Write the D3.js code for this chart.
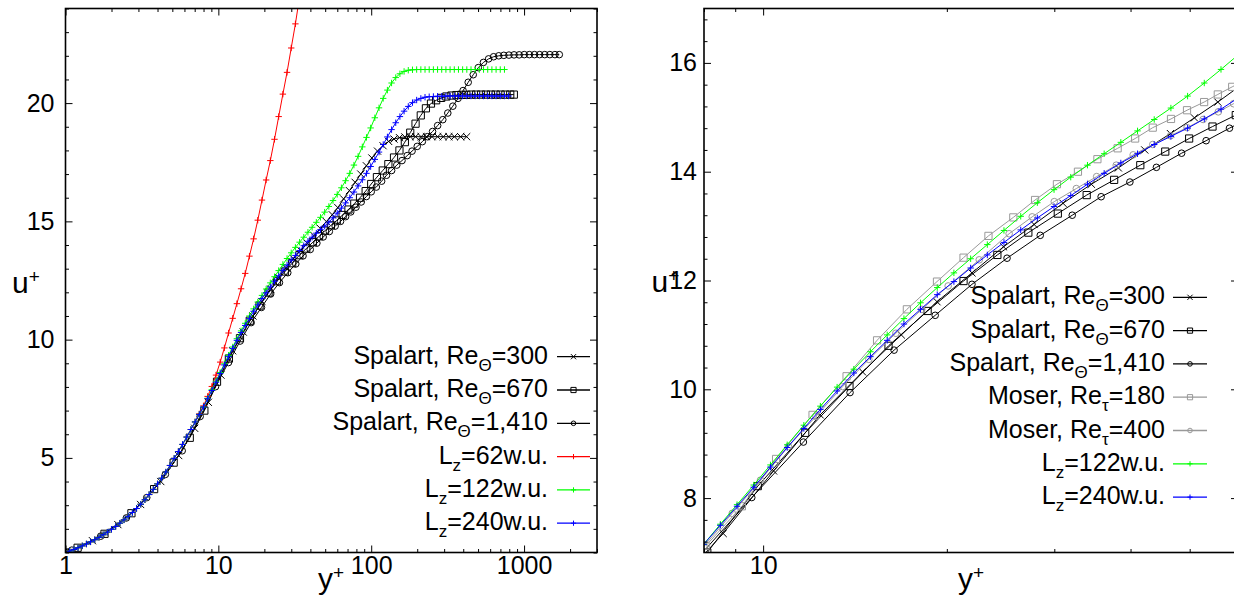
<!DOCTYPE html>
<html>
<head>
<meta charset="utf-8">
<script src="https://cdn.jsdelivr.net/npm/d3@7"></script>
<style>
  body { margin: 0; background: #fff; }
  svg { display: block; font-family: "Liberation Sans", Arial, Helvetica, sans-serif; }
</style>
</head>
<body>
<div id="chart"></div>
<script>
// wall-normal grid of the LES runs (y+) and their mean profiles (u+)
const lesYPlus = [1.00, 1.065, 1.134, 1.208, 1.287, 1.370, 1.459, 1.554, 1.655, 1.763,
  1.877, 1.999, 2.129, 2.268, 2.415, 2.572, 2.739, 2.917, 3.107, 3.309,
  3.524, 3.753, 3.997, 4.256, 4.533, 4.828, 5.141, 5.476, 5.832, 6.211,
  6.614, 7.044, 7.502, 7.990, 8.509, 9.062, 9.651, 10.28, 10.95, 11.66,
  12.41, 13.22, 14.08, 14.99, 15.97, 17.01, 18.11, 19.29, 20.54, 21.88,
  23.30, 24.81, 26.43, 28.14, 29.97, 31.92, 34.00, 36.21, 38.56, 41.07,
  43.74, 46.58, 49.61, 52.83, 56.27, 59.92, 63.82, 67.97, 72.38, 77.09,
  82.10, 87.44, 93.12, 99.17, 105.6, 112.5, 119.8, 127.6, 135.9, 144.7,
  154.1, 164.1, 174.8, 186.2, 198.3, 211.2, 224.9, 239.5, 255.1, 271.7,
  289.3, 308.1, 328.1, 349.5, 372.2, 396.4, 422.2, 449.6, 478.8, 509.9,
  543.1, 578.4, 616.0, 656.0, 698.6, 744.0, 792.0];

const uLz62 = [1.00, 1.06, 1.13, 1.20, 1.28, 1.36, 1.45, 1.54, 1.64, 1.75,
  1.86, 1.98, 2.10, 2.24, 2.38, 2.53, 2.69, 2.86, 3.04, 3.23,
  3.45, 3.67, 3.90, 4.14, 4.40, 4.68, 4.98, 5.27, 5.57, 5.88,
  6.20, 6.52, 6.86, 7.20, 7.60, 8.02, 8.50, 9.05, 9.65, 10.28,
  10.90, 11.52, 12.15, 12.80, 13.53, 14.26, 15.05, 15.90, 16.75, 17.57,
  18.47, 19.43, 20.38, 21.30, 22.33, 23.35, 24.50];

const uLz122 = [1.00, 1.06, 1.13, 1.20, 1.28, 1.36, 1.45, 1.54, 1.64, 1.75,
  1.86, 1.98, 2.10, 2.24, 2.38, 2.53, 2.69, 2.86, 3.04, 3.23,
  3.45, 3.67, 3.90, 4.14, 4.40, 4.68, 4.98, 5.27, 5.57, 5.88,
  6.20, 6.52, 6.84, 7.15, 7.52, 7.88, 8.24, 8.61, 8.98, 9.34,
  9.69, 10.04, 10.37, 10.69, 11.00, 11.30, 11.59, 11.87, 12.14, 12.40,
  12.66, 12.92, 13.18, 13.43, 13.67, 13.90, 14.12, 14.33, 14.54, 14.75,
  14.96, 15.17, 15.39, 15.63, 15.88, 16.14, 16.42, 16.72, 17.03, 17.38,
  17.75, 18.15, 18.55, 18.95, 19.38, 19.80, 20.20, 20.55, 20.85, 21.08,
  21.24, 21.34, 21.39, 21.41, 21.42, 21.42, 21.42, 21.42, 21.42, 21.42,
  21.42, 21.42, 21.42, 21.42, 21.42, 21.42, 21.42, 21.42, 21.42, 21.42,
  21.42, 21.42, 21.42, 21.42, 21.42, 21.42];

const uLz240 = [1.00, 1.06, 1.13, 1.20, 1.28, 1.36, 1.45, 1.54, 1.64, 1.75,
  1.86, 1.98, 2.10, 2.24, 2.38, 2.53, 2.69, 2.86, 3.04, 3.23,
  3.45, 3.67, 3.90, 4.14, 4.40, 4.68, 4.98, 5.27, 5.57, 5.88,
  6.20, 6.52, 6.84, 7.15, 7.50, 7.85, 8.20, 8.57, 8.93, 9.28,
  9.63, 9.97, 10.30, 10.60, 10.90, 11.20, 11.47, 11.74, 11.98, 12.23,
  12.47, 12.70, 12.93, 13.15, 13.36, 13.56, 13.77, 13.97, 14.16, 14.33,
  14.50, 14.65, 14.80, 14.97, 15.15, 15.35, 15.56, 15.78, 16.00, 16.24,
  16.50, 16.76, 17.03, 17.32, 17.62, 17.93, 18.25, 18.57, 18.88, 19.17,
  19.43, 19.66, 19.86, 20.02, 20.13, 20.20, 20.25, 20.27, 20.28, 20.29,
  20.29, 20.30, 20.30, 20.30, 20.30, 20.30, 20.30, 20.30, 20.30, 20.30,
  20.30, 20.30, 20.30, 20.30, 20.30, 20.30, 20.30];

// Spalart DNS profiles
const spalart300Y = [1.0, 1.5, 2.2, 3.1, 4.2, 5.5, 7.0, 8.6, 10.4, 12.4,
  14.55, 16.84, 19.27, 21.99, 24.77, 27.8, 31.0, 34.5, 38.2, 42.2,
  46.5, 50.9, 55.6, 60.5, 66, 72, 78.5, 85.5, 93, 101,
  110, 119.5, 130, 141, 153, 166, 180, 195, 212, 230,
  250, 272, 296, 322, 350, 385, 421];
const spalart300U = [1.0, 1.5, 2.18, 3.03, 4.0, 5.1, 6.25, 7.35, 8.5, 9.53,
  10.32, 11.0, 11.61, 12.14, 12.62, 13.03, 13.42, 13.77, 14.07, 14.40,
  14.70, 14.99, 15.28, 15.58, 15.95, 16.3, 16.65, 17.0, 17.35, 17.68,
  17.97, 18.2, 18.38, 18.48, 18.54, 18.57, 18.58, 18.58, 18.58, 18.58,
  18.58, 18.58, 18.58, 18.58, 18.58, 18.58, 18.58];

const spalart670Y = [1.0, 1.2, 1.8, 2.7, 3.8, 5.1, 6.5, 8.1, 9.8, 11.72,
  13.85, 16.05, 18.6, 21.3, 24.2, 27.2, 30.4, 33.9, 37.6, 41.5,
  45.6, 49.9, 54.5, 59.5, 65, 71, 77.5, 84.5, 92, 100,
  109, 119, 129.5, 141, 153, 166, 180, 195, 211, 228,
  246, 266, 287, 310, 335, 361, 389, 419, 451, 486,
  523, 563, 606, 652, 702, 755, 812, 857];
const spalart670U = [1.0, 1.2, 1.79, 2.66, 3.68, 4.8, 5.85, 7.0, 8.22, 9.2,
  10.06, 10.8, 11.44, 11.99, 12.47, 12.88, 13.23, 13.57, 13.85, 14.12,
  14.37, 14.61, 14.83, 15.04, 15.27, 15.5, 15.75, 16.0, 16.28, 16.58,
  16.87, 17.15, 17.42, 17.7, 18.0, 18.35, 18.75, 19.13, 19.48, 19.78,
  19.98, 20.12, 20.22, 20.28, 20.32, 20.34, 20.35, 20.35, 20.36, 20.36,
  20.36, 20.36, 20.36, 20.36, 20.36, 20.36, 20.36, 20.36];

const spalart1410Y = [1.0, 1.1, 1.7, 2.5, 3.4, 4.5, 5.8, 7.6, 9.58, 11.64,
  13.88, 16.39, 19.14, 21.99, 25.1, 28.45, 32.1, 35.8, 39.9, 44.1,
  48.5, 53.2, 58.1, 63, 68, 73.5, 79.5, 86, 93, 100,
  108, 117, 126, 136, 147, 159, 172, 185, 200, 216,
  233, 252, 272, 294, 317, 342, 370, 399, 431, 465,
  502, 542, 586, 632, 683, 737, 796, 860, 929, 1003,
  1083, 1170, 1264, 1365, 1474, 1592, 1700];
const spalart1410U = [1.0, 1.1, 1.69, 2.46, 3.32, 4.3, 5.3, 6.75, 8.01, 9.03,
  9.94, 10.72, 11.36, 11.93, 12.41, 12.83, 13.2, 13.54, 13.81, 14.08,
  14.34, 14.57, 14.8, 15.0, 15.2, 15.4, 15.6, 15.82, 16.05, 16.25,
  16.45, 16.7, 16.95, 17.15, 17.38, 17.57, 17.78, 17.97, 18.17, 18.37,
  18.58, 18.8, 19.05, 19.3, 19.58, 19.87, 20.2, 20.53, 20.88, 21.2,
  21.5, 21.72, 21.87, 21.96, 22.0, 22.02, 22.03, 22.04, 22.04, 22.05,
  22.05, 22.05, 22.05, 22.05, 22.05, 22.05, 22.05];

// Moser channel DNS (right panel only)
const moser180Y = [8.05, 9.23, 10.5, 12.05, 13.7, 15.37, 17.2, 19.27, 21.3, 23.4,
  25.7, 27.9, 30.3, 32.8, 35.3, 38.1, 40.7, 43.5, 46.6, 49.5,
  52.8, 55.6, 58.7, 62];
const moser180U = [7.12, 7.85, 8.72, 9.53, 10.24, 10.9, 11.47, 11.98, 12.42, 12.82,
  13.16, 13.48, 13.77, 14.0, 14.23, 14.43, 14.61, 14.81, 14.97, 15.13,
  15.28, 15.42, 15.56, 15.7];
const moser400Y = [8.0, 8.9, 9.9, 11.0, 12.2, 13.5, 14.9, 16.5, 18.2, 20.1,
  22.6, 25.3, 27.6, 30.0, 32.6, 35.2, 37.9, 40.4, 43.5, 46.5,
  49.5, 52.6, 55.7, 59, 62];
const moser400U = [7.12, 7.72, 8.33, 8.95, 9.5, 10.05, 10.55, 11.03, 11.47, 11.9,
  12.38, 12.86, 13.17, 13.45, 13.69, 13.91, 14.12, 14.31, 14.5, 14.66,
  14.81, 14.96, 15.1, 15.25, 15.38];

// tick labels
const leftXTicks = [1, 10, 100, 1000];
const leftYTicks = [5, 10, 15, 20];
const rightXTicks = [10];
const rightYTicks = [8, 10, 12, 14, 16];

// legend labels: [text, subscript, rest]
const leftLegendLabels = [
  ["Spalart, Re", "\u0398", "=300"],
  ["Spalart, Re", "\u0398", "=670"],
  ["Spalart, Re", "\u0398", "=1,410"],
  ["L", "z", "=62w.u."],
  ["L", "z", "=122w.u."],
  ["L", "z", "=240w.u."]
];
const rightLegendLabels = [
  ["Spalart, Re", "\u0398", "=300"],
  ["Spalart, Re", "\u0398", "=670"],
  ["Spalart, Re", "\u0398", "=1,410"],
  ["Moser, Re", "\u03c4", "=180"],
  ["Moser, Re", "\u03c4", "=400"],
  ["L", "z", "=122w.u."],
  ["L", "z", "=240w.u."]
];

const gray = "#999999";
const sp300 = {x: spalart300Y, y: spalart300U, color: "#000", marker: "times"};
const sp670 = {x: spalart670Y, y: spalart670U, color: "#000", marker: "square"};
const sp1410 = {x: spalart1410Y, y: spalart1410U, color: "#000", marker: "circle"};
const lz62 = {x: lesYPlus.slice(0, uLz62.length), y: uLz62, color: "#ff0000", marker: "plus"};
const lz122 = {x: lesYPlus.slice(0, uLz122.length), y: uLz122, color: "#00ff00", marker: "plus"};
const lz240 = {x: lesYPlus.slice(0, uLz240.length), y: uLz240, color: "#0000ff", marker: "plus"};
const mo180 = {x: moser180Y, y: moser180U, color: gray, marker: "square"};
const mo400 = {x: moser400Y, y: moser400U, color: gray, marker: "circle"};

const width = 1234;
const height = 600;

const svg = d3.select("#chart")
    .append("svg")
    .attr("width", width)
    .attr("height", height);

svg.append("rect")
    .attr("width", width)
    .attr("height", height)
    .attr("fill", "#fff");

const defs = svg.append("defs");

function markerPath(type, s) {
    if (type === "plus") return `M${-s},0H${s}M0,${-s}V${s}`;
    if (type === "times") return `M${-s},${-s}L${s},${s}M${-s},${s}L${s},${-s}`;
    if (type === "square") return `M${-s},${-s}H${s}V${s}H${-s}Z`;
    return `M${s},0A${s},${s} 0 1,1 ${-s},0A${s},${s} 0 1,1 ${s},0Z`;
}

function markerSize(type) {
    if (type === "circle") return 3.3;
    if (type === "plus") return 3.2;
    return 3.6;
}

function drawPanel(p) {
    const x = d3.scaleLog().domain(p.xDomain).range([p.left, p.right]);
    const y = d3.scaleLinear().domain(p.yDomain).range([p.bottom, p.top]);
    const g = svg.append("g");

    defs.append("clipPath")
        .attr("id", "clip-" + p.id)
        .append("rect")
        .attr("x", p.left)
        .attr("y", p.top)
        .attr("width", p.right - p.left)
        .attr("height", p.bottom - p.top);

    // curves with point markers
    const plot = g.append("g").attr("clip-path", `url(#clip-${p.id})`);
    const line = d3.line().x(d => x(d[0])).y(d => y(d[1]));

    p.series.forEach(s => {
        const pts = d3.zip(s.x, s.y);
        plot.append("path")
            .datum(pts)
            .attr("d", line)
            .attr("fill", "none")
            .attr("stroke", s.color)
            .attr("stroke-width", 1);
        plot.append("g")
            .selectAll("path")
            .data(pts)
            .enter().append("path")
            .attr("transform", d => `translate(${x(d[0])},${y(d[1])})`)
            .attr("d", markerPath(s.marker, markerSize(s.marker)))
            .attr("fill", "none")
            .attr("stroke", s.color)
            .attr("stroke-width", 1);
    });

    // ticks, pointing inward on all four sides
    const xMinor = x.ticks().filter(v => !p.xMajor.includes(v));
    const noLabel = () => "";
    const axes = g.append("g");

    function addAxis(axis, tx, ty, values, size, fmt, pad) {
        const a = axes.append("g")
            .attr("transform", `translate(${tx},${ty})`)
            .call(axis.tickValues(values).tickSizeInner(-size).tickSizeOuter(0)
                .tickPadding(pad || 0).tickFormat(fmt || noLabel));
        a.select(".domain").remove();
        a.attr("font-size", 25).attr("font-family", null);
        a.selectAll("line").attr("stroke", "#000");
        return a;
    }

    addAxis(d3.axisBottom(x), 0, p.bottom, xMinor, 3.5);
    addAxis(d3.axisTop(x), 0, p.top, xMinor, 3.5);
    addAxis(d3.axisTop(x), 0, p.top, p.xMajor, 7);
    addAxis(d3.axisBottom(x), 0, p.bottom, p.xMajor, 7, d3.format("d"), 4);

    addAxis(d3.axisLeft(y), p.left, 0, p.yMinor, 3.5);
    addAxis(d3.axisRight(y), p.right, 0, p.yMinor, 3.5);
    addAxis(d3.axisRight(y), p.right, 0, p.yMajor, 7);
    addAxis(d3.axisLeft(y), p.left, 0, p.yMajor, 7, d3.format("d"), p.yPad);

    // frame
    g.append("rect")
        .attr("x", p.left)
        .attr("y", p.top)
        .attr("width", p.right - p.left)
        .attr("height", p.bottom - p.top)
        .attr("fill", "none")
        .attr("stroke", "#000")
        .attr("stroke-width", 1.6);

    // axis titles
    const uLabel = g.append("text")
        .attr("x", p.uPos[0])
        .attr("y", p.uPos[1])
        .attr("font-size", 30);
    uLabel.append("tspan").text("u");
    uLabel.append("tspan").attr("font-size", 19).attr("dy", -10).text("+");

    const yLabel = g.append("text")
        .attr("x", p.yPos[0])
        .attr("y", p.yPos[1])
        .attr("font-size", 30);
    yLabel.append("tspan").text("y");
    yLabel.append("tspan").attr("font-size", 19).attr("dy", -10).text("+");

    // key
    const key = g.append("g");
    p.series.forEach((s, i) => {
        const ly = p.key.y0 + i * p.key.step;
        const lab = p.labels[i];
        const t = key.append("text")
            .attr("x", p.key.textX)
            .attr("y", ly + 7)
            .attr("text-anchor", "end")
            .attr("font-size", 25);
        t.append("tspan").text(lab[0]);
        t.append("tspan").attr("font-size", 17).attr("dy", 7).text(lab[1]);
        t.append("tspan").attr("dy", -7).text(lab[2]);

        key.append("line")
            .attr("x1", p.key.x0)
            .attr("x2", p.key.x1)
            .attr("y1", ly)
            .attr("y2", ly)
            .attr("stroke", s.color)
            .attr("stroke-width", 1.3);
        key.append("path")
            .attr("transform", `translate(${(p.key.x0 + p.key.x1) / 2},${ly})`)
            .attr("d", markerPath(s.marker, s.marker === "circle" ? 2.3 : 2.6))
            .attr("fill", "none")
            .attr("stroke", s.color)
            .attr("stroke-width", 1);
    });
}

drawPanel({
    id: "left",
    left: 65.5, right: 597, top: 8.5, bottom: 552.5,
    xDomain: [1, 3000], yDomain: [1, 24],
    xMajor: leftXTicks, yMajor: leftYTicks,
    yMinor: d3.range(1, 25, 1).filter(v => !leftYTicks.includes(v)),
    yPad: 11,
    series: [sp300, sp670, sp1410, lz62, lz122, lz240],
    labels: leftLegendLabels,
    key: {textX: 548, x0: 557, x1: 590, y0: 356.7, step: 33.3},
    uPos: [12, 293],
    yPos: [318, 589]
});

drawPanel({
    id: "right",
    left: 704, right: 1238, top: 8.5, bottom: 552.5,
    xDomain: [8, 60], yDomain: [7, 17],
    xMajor: rightXTicks, yMajor: rightYTicks,
    yMinor: d3.range(7.2, 17, 0.4).filter(v => !rightYTicks.some(t => Math.abs(t - v) < 1e-6)),
    yPad: 7,
    series: [sp300, sp670, sp1410, mo180, mo400, lz122, lz240],
    labels: rightLegendLabels,
    key: {textX: 1165, x0: 1173, x1: 1207, y0: 297.3, step: 33.3},
    uPos: [651.5, 292],
    yPos: [958, 589]
});
</script>
</body>
</html>
